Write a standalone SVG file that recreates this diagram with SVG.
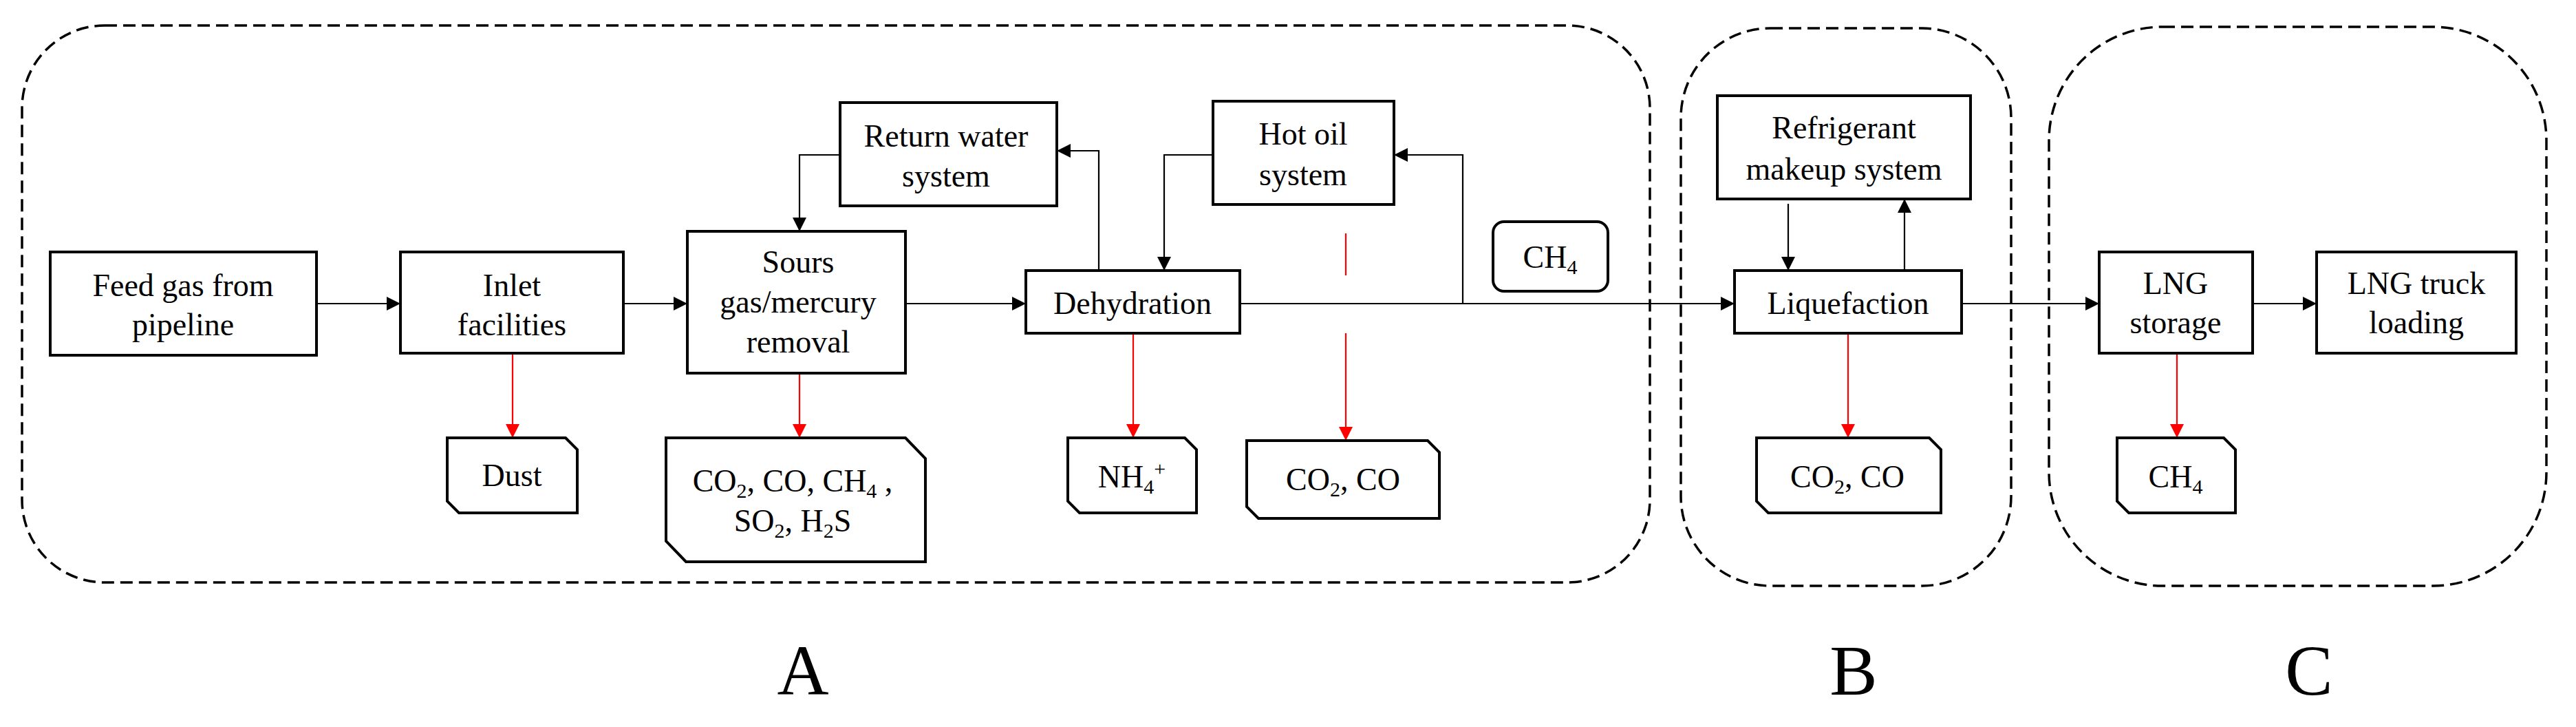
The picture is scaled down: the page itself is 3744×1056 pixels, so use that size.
<svg xmlns="http://www.w3.org/2000/svg" width="3744" height="1056" viewBox="0 0 3744 1056">
<style>
text{font-family:"Liberation Serif","Times New Roman",serif;font-size:46px;fill:#000;text-anchor:middle}
.big{font-size:104px}
.box{fill:#fff;stroke:#000;stroke-width:4}
.reg{fill:none;stroke:#000;stroke-width:3.5;stroke-dasharray:18 9}
.c{fill:none;stroke:#000;stroke-width:2.2}
.r{fill:none;stroke:#f00;stroke-width:2.2}
.s{font-size:30px}
</style>
<defs>
<marker id="ab" viewBox="0 0 10 10" refX="10" refY="5" markerWidth="10" markerHeight="10" markerUnits="userSpaceOnUse" orient="auto"><path d="M0,0L10,5L0,10z" fill="#000" transform="scale(1)"/></marker>
<marker id="a" viewBox="0 0 10 10" refX="10" refY="5" markerWidth="22" markerHeight="20" markerUnits="userSpaceOnUse" orient="auto"><path d="M0,0L10,5L0,10z" fill="#000"/></marker>
<marker id="ar" viewBox="0 0 10 10" refX="10" refY="5" markerWidth="22" markerHeight="20" markerUnits="userSpaceOnUse" orient="auto"><path d="M0,0L10,5L0,10z" fill="#f00"/></marker>
</defs>
<g id="regions">
<rect class="reg" x="32" y="37" width="2366" height="809" rx="120" ry="120"/>
<rect class="reg" x="2443" y="41" width="480" height="810" rx="130" ry="130"/>
<rect class="reg" x="2978" y="39" width="723" height="812" rx="165" ry="165"/>
</g>
<g id="connectors">
<path class="c" d="M460,441H582" marker-end="url(#a)"/>
<path class="c" d="M906,441H999" marker-end="url(#a)"/>
<path class="c" d="M1316,441H1491" marker-end="url(#a)"/>
<path class="c" d="M1221,225H1162V336" marker-end="url(#a)"/>
<path class="c" d="M1597,393V219H1536" marker-end="url(#a)"/>
<path class="c" d="M1763,225H1692V393" marker-end="url(#a)"/>
<path class="c" d="M1802,441H2521" marker-end="url(#a)"/>
<path class="c" d="M2126,441V225H2026" marker-end="url(#a)"/>
<path class="c" d="M2599,296V393" marker-end="url(#a)"/>
<path class="c" d="M2768,393V289" marker-end="url(#a)"/>
<path class="c" d="M2851,441H3051" marker-end="url(#a)"/>
<path class="c" d="M3274,441H3367" marker-end="url(#a)"/>
<path class="r" d="M745,513V636" marker-end="url(#ar)"/>
<path class="r" d="M1162,542V636" marker-end="url(#ar)"/>
<path class="r" d="M1647,484V636" marker-end="url(#ar)"/>
<path class="r" d="M1956,339V400"/>
<path class="r" d="M1956,484V640" marker-end="url(#ar)"/>
<path class="r" d="M2686,484V636" marker-end="url(#ar)"/>
<path class="r" d="M3164,513V636" marker-end="url(#ar)"/>
</g>
<g id="feed"><rect class="box" x="73" y="366" width="387" height="150"/><text x="266" y="430">Feed gas from</text><text x="266" y="487">pipeline</text></g>
<g id="inlet"><rect class="box" x="582" y="366" width="324" height="147"/><text x="744" y="430">Inlet</text><text x="744" y="487">facilities</text></g>
<g id="sours"><rect class="box" x="999" y="336" width="317" height="206"/><text x="1160" y="396">Sours</text><text x="1160" y="454">gas/mercury</text><text x="1160" y="512">removal</text></g>
<g id="returnwater"><rect class="box" x="1221" y="149" width="315" height="150"/><text x="1375" y="213">Return water</text><text x="1375" y="271">system</text></g>
<g id="dehydration"><rect class="box" x="1491" y="393" width="311" height="91"/><text x="1646" y="456">Dehydration</text></g>
<g id="hotoil"><rect class="box" x="1763" y="147" width="263" height="150"/><text x="1894" y="210">Hot oil</text><text x="1894" y="269">system</text></g>
<g id="ch4mid"><rect class="box" x="2170" y="322" width="167" height="101" rx="16"/><text x="2253" y="389">CH<tspan class="s" dy="9">4</tspan></text></g>
<g id="refrigerant"><rect class="box" x="2496" y="139" width="368" height="150"/><text x="2680" y="201">Refrigerant</text><text x="2680" y="261">makeup system</text></g>
<g id="liquefaction"><rect class="box" x="2521" y="393" width="330" height="91"/><text x="2686" y="456">Liquefaction</text></g>
<g id="lngstorage"><rect class="box" x="3051" y="366" width="223" height="147"/><text x="3162" y="427">LNG</text><text x="3162" y="484">storage</text></g>
<g id="lngtruck"><rect class="box" x="3367" y="366" width="290" height="147"/><text x="3512" y="427">LNG truck</text><text x="3512" y="484">loading</text></g>
<g id="dust"><path class="box" d="M650,636H822L839,653V745H667L650,728Z"/><text x="744" y="706">Dust</text></g>
<g id="soursout"><path class="box" d="M968,636H1316L1345,666V816H997L968,786Z"/><text x="1152" y="714">CO<tspan class="s" dy="9">2</tspan><tspan dy="-9">, CO, CH</tspan><tspan class="s" dy="9">4</tspan><tspan dy="-9"> ,</tspan></text><text x="1152" y="772">SO<tspan class="s" dy="9">2</tspan><tspan dy="-9">, H</tspan><tspan class="s" dy="9">2</tspan><tspan dy="-9">S</tspan></text></g>
<g id="nh4"><path class="box" d="M1552,636H1722L1739,653V745H1569L1552,728Z"/><text x="1645" y="708">NH<tspan class="s" dy="9">4</tspan><tspan class="s" dy="-26">+</tspan></text></g>
<g id="co2a"><path class="box" d="M1812,640H2075L2092,657V753H1829L1812,736Z"/><text x="1952" y="712">CO<tspan class="s" dy="9">2</tspan><tspan dy="-9">, CO</tspan></text></g>
<g id="co2b"><path class="box" d="M2553,636H2804L2821,653V745H2570L2553,728Z"/><text x="2685" y="708">CO<tspan class="s" dy="9">2</tspan><tspan dy="-9">, CO</tspan></text></g>
<g id="ch4c"><path class="box" d="M3077,636H3232L3249,653V745H3094L3077,728Z"/><text x="3162" y="708">CH<tspan class="s" dy="9">4</tspan></text></g>
<g id="labels"><text class="big" x="1167" y="1009">A</text><text class="big" x="2694" y="1009">B</text><text class="big" x="3356" y="1009">C</text></g>
</svg>
